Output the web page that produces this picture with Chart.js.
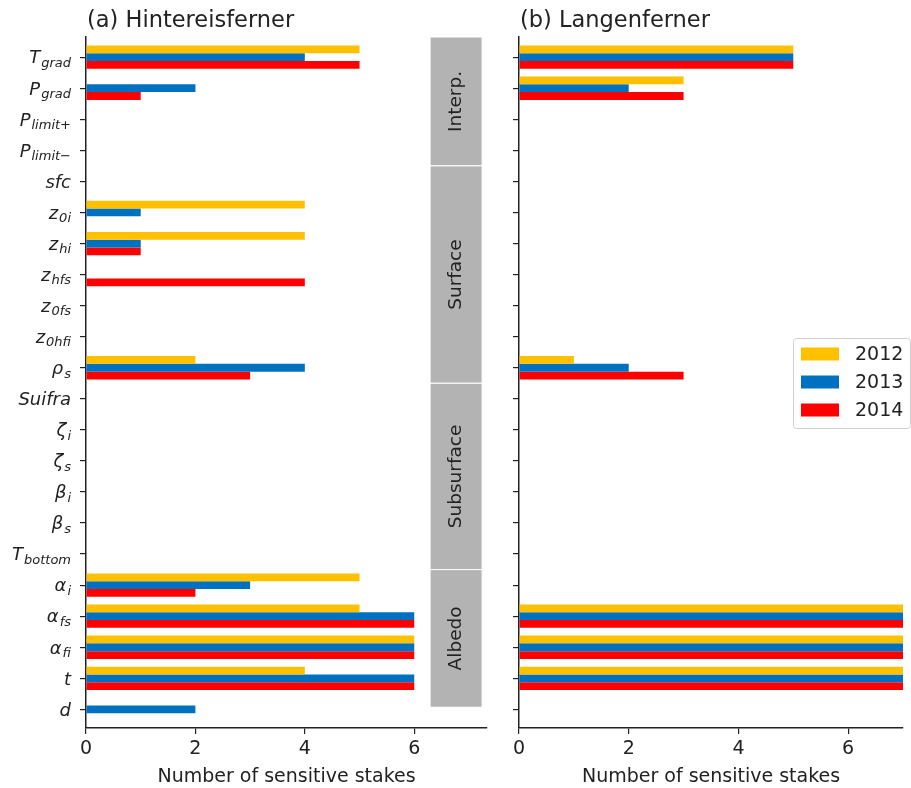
<!DOCTYPE html>
<html>
<head>
<meta charset="utf-8">
<script src="https://cdn.jsdelivr.net/npm/chart.js@4.4.0/dist/chart.umd.min.js"></script>
<style>
  html, body { margin: 0; padding: 0; background: #fff; }
  #wrap { position: relative; width: 911px; height: 788px; }
  canvas { position: absolute; top: 0; }
  #hef { left: 0; }
  #lan { left: 500px; }
</style>
</head>
<body>
<div id="wrap">
  <canvas id="hef" width="500" height="788"></canvas>
  <canvas id="lan" width="411" height="788"></canvas>
</div>
<script>
// parameter labels: base symbol + subscript
const labelBase = ['T', 'P', 'P', 'P', 'sfc', 'z', 'z', 'z', 'z', 'z', 'ρ', 'Suifra', 'ζ', 'ζ', 'β', 'β', 'T', 'α', 'α', 'α', 't', 'd'];
const labelSub  = ['grad', 'grad', 'limit+', 'limit−', '', '0i', 'hi', 'hfs', '0fs', '0hfi', 's', '', 'i', 's', 'i', 's', 'bottom', 'i', 'fs', 'fi', '', ''];

const years = ['2012', '2013', '2014'];
const colors = ['#FFC000', '#0070C0', '#FF0000'];

// (a) Hintereisferner
const hef2012 = [5, 0, 0, 0, 0, 4, 4, 0, 0, 0, 2, 0, 0, 0, 0, 0, 0, 5, 5, 6, 4, 0];
const hef2013 = [4, 2, 0, 0, 0, 1, 1, 0, 0, 0, 4, 0, 0, 0, 0, 0, 0, 3, 6, 6, 6, 2];
const hef2014 = [5, 1, 0, 0, 0, 0, 1, 4, 0, 0, 3, 0, 0, 0, 0, 0, 0, 2, 6, 6, 6, 0];

// (b) Langenferner
const lan2012 = [5, 3, 0, 0, 0, 0, 0, 0, 0, 0, 1, 0, 0, 0, 0, 0, 0, 0, 7, 7, 7, 0];
const lan2013 = [5, 2, 0, 0, 0, 0, 0, 0, 0, 0, 2, 0, 0, 0, 0, 0, 0, 0, 7, 7, 7, 0];
const lan2014 = [5, 3, 0, 0, 0, 0, 0, 0, 0, 0, 3, 0, 0, 0, 0, 0, 0, 0, 7, 7, 7, 0];

const xTicks = [0, 2, 4, 6];

// parameter groups (first / last label index)
const groupNames = ['Interp.', 'Surface', 'Subsurface', 'Albedo'];
const groupFirst = [0, 4, 11, 17];
const groupLast  = [3, 10, 16, 20];

const FONT = '"DejaVu Sans", sans-serif';
const INK = '#222';

function makeDatasets(series) {
  return series.map((vals, k) => ({
    label: years[k],
    data: vals.map((v, i) => ({ x: v, y: i })),
    backgroundColor: colors[k],
    borderWidth: 0,
    categoryPercentage: 0.75,
    barPercentage: 1.0
  }));
}

function scales(xmax, yWidth) {
  return {
    x: {
      type: 'linear', min: 0, max: xmax, offset: false,
      afterBuildTicks: s => { s.ticks = xTicks.map(v => ({ value: v })); },
      afterFit: s => { s.height = 60; },
      grid: { offset: false, drawOnChartArea: false, drawTicks: true, tickLength: 6, color: INK, lineWidth: 1.2 },
      border: { display: true, color: INK, width: 1.5 },
      ticks: { color: INK, font: { family: FONT, size: 19 }, padding: 4 },
      title: { display: true, text: 'Number of sensitive stakes', color: INK,
               font: { family: FONT, size: 19 }, padding: { top: 0, bottom: 0 } }
    },
    y: {
      type: 'linear', reverse: true, min: -0.65, max: 21.6, offset: false,
      afterBuildTicks: s => { s.ticks = labelBase.map((b, i) => ({ value: i })); },
      afterFit: s => { s.width = yWidth; },
      grid: { offset: false, drawOnChartArea: false, drawTicks: true, tickLength: 6, color: INK, lineWidth: 1.2 },
      border: { display: true, color: INK, width: 1.5 },
      ticks: { display: false }
    }
  };
}

function titlePlugin(text) {
  return {
    id: 'panelTitle',
    afterDraw(chart) {
      const ctx = chart.ctx;
      ctx.save();
      ctx.fillStyle = INK;
      ctx.font = '22.5px ' + FONT;
      ctx.textBaseline = 'alphabetic';
      ctx.fillText(text, chart.chartArea.left + 1, 26.5);
      ctx.restore();
    }
  };
}

const yLabelPlugin = {
  id: 'yLabels',
  afterDraw(chart) {
    const ctx = chart.ctx, ys = chart.scales.y;
    const right = chart.chartArea.left - 15;
    ctx.save();
    ctx.fillStyle = INK;
    ctx.textBaseline = 'alphabetic';
    labelBase.forEach((b, i) => {
      const y = ys.getPixelForValue(i);
      ctx.font = 'italic 18px ' + FONT;
      const wb = ctx.measureText(b).width;
      ctx.font = 'italic 13px ' + FONT;
      const ws = labelSub[i] ? ctx.measureText(labelSub[i]).width + 1 : 0;
      const x0 = right - wb - ws;
      ctx.font = 'italic 18px ' + FONT;
      ctx.fillText(b, x0, y + 6.3);
      if (labelSub[i]) {
        ctx.font = 'italic 13px ' + FONT;
        ctx.fillText(labelSub[i], x0 + wb + 1, y + 9.8);
      }
    });
    ctx.restore();
  }
};

const groupPlugin = {
  id: 'groups',
  afterDatasetsDraw(chart) {
    const ctx = chart.ctx, xs = chart.scales.x, ys = chart.scales.y;
    const x0 = xs.getPixelForValue(6.29), x1 = xs.getPixelForValue(7.24);
    ctx.save();
    groupNames.forEach((name, g) => {
      const top = g === 0 ? chart.chartArea.top : ys.getPixelForValue(groupFirst[g] - 0.5);
      const bot = g === groupNames.length - 1 ? ys.getPixelForValue(groupLast[g] + 0.93)
                                              : ys.getPixelForValue(groupLast[g] + 0.5);
      ctx.fillStyle = '#B3B3B3';
      ctx.fillRect(x0, top, x1 - x0, bot - top);
      ctx.strokeStyle = '#fff';
      ctx.lineWidth = 1;
      ctx.strokeRect(x0, top, x1 - x0, bot - top);
      ctx.save();
      ctx.translate((x0 + x1) / 2, (top + bot) / 2);
      ctx.rotate(-Math.PI / 2);
      ctx.fillStyle = INK;
      ctx.font = '18.5px ' + FONT;
      ctx.textAlign = 'center';
      ctx.textBaseline = 'middle';
      ctx.fillText(name, 0, 0);
      ctx.restore();
    });
    ctx.restore();
  }
};

const legendPlugin = {
  id: 'boxLegend',
  afterDraw(chart) {
    const ctx = chart.ctx;
    const bx = 293, by = 338, bw = 117, bh = 90;
    ctx.save();
    ctx.fillStyle = 'rgba(255,255,255,0.9)';
    ctx.strokeStyle = '#d0d0d0';
    ctx.lineWidth = 1;
    ctx.beginPath();
    ctx.roundRect(bx + 0.5, by + 0.5, bw, bh, 3);
    ctx.fill();
    ctx.stroke();
    chart.data.datasets.forEach((ds, k) => {
      const cy = 354 + k * 28;
      ctx.fillStyle = ds.backgroundColor;
      ctx.fillRect(301, cy - 6.5, 38, 13);
      ctx.fillStyle = INK;
      ctx.font = '19px ' + FONT;
      ctx.textBaseline = 'middle';
      ctx.fillText(ds.label, 355, cy + 1);
    });
    ctx.restore();
  }
};

new Chart(document.getElementById('hef'), {
  type: 'bar',
  data: { datasets: makeDatasets([hef2012, hef2013, hef2014]) },
  options: {
    indexAxis: 'y', responsive: false, animation: false,
    layout: { padding: { top: 37, right: 13, left: 0, bottom: 0 } },
    plugins: { legend: { display: false }, tooltip: { enabled: false } },
    scales: scales(7.33, 86)
  },
  plugins: [titlePlugin('(a) Hintereisferner'), yLabelPlugin, groupPlugin]
});

new Chart(document.getElementById('lan'), {
  type: 'bar',
  data: { datasets: makeDatasets([lan2012, lan2013, lan2014]) },
  options: {
    indexAxis: 'y', responsive: false, animation: false,
    layout: { padding: { top: 37, right: 8, left: 0, bottom: 0 } },
    plugins: { legend: { display: false }, tooltip: { enabled: false } },
    scales: scales(7, 19)
  },
  plugins: [titlePlugin('(b) Langenferner'), legendPlugin]
});
</script>
</body>
</html>
